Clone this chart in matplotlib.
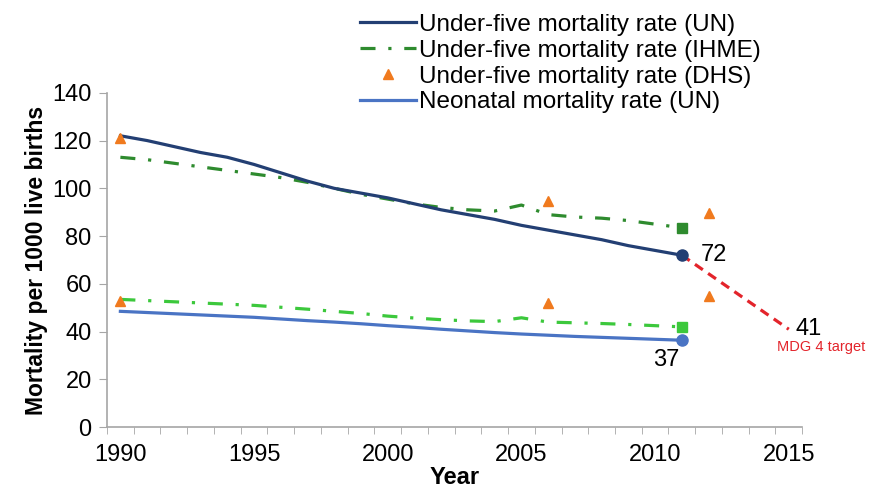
import numpy as np
import matplotlib
matplotlib.use("Agg")
import matplotlib.pyplot as plt
from matplotlib.lines import Line2D

plt.rcParams['font.family'] = ['Liberation Sans', 'DejaVu Sans']

years = np.arange(1990, 2012)

# under-five mortality (UN)
u5_un = [122, 120, 117.5, 115, 113, 110, 106.5, 103, 100, 98, 96,
         93.5, 91, 89, 87, 84.5, 82.5, 80.5, 78.5, 76, 74, 72]
# under-five mortality (IHME)
u5_ihme = [113, 112, 110.5, 109, 107.5, 106, 104.5, 102.5, 100, 97.5, 95.5,
           93.5, 92, 91, 90.5, 93, 89, 88, 87.5, 86.5, 85, 83.5]
# neonatal mortality (UN)
nn_un = [48.5, 48, 47.5, 47, 46.5, 46, 45.3, 44.6, 44, 43.3, 42.5,
         41.8, 41, 40.3, 39.6, 39, 38.5, 38, 37.6, 37.2, 36.8, 36.4]
# neonatal mortality (IHME)
nn_ihme = [53.5, 53, 52.5, 52, 51.5, 51, 50.2, 49.4, 48.5, 47.6, 46.5,
           45.7, 45, 44.5, 44.2, 45.8, 44, 43.7, 43.4, 43, 42.5, 42]

# DHS survey points
dhs_years = [1990, 2006, 2012]
dhs_u5 = [121, 94.5, 89.5]
dhs_nn = [53, 52, 55]

# MDG 4 target
mdg_years = [2011, 2015]
mdg_vals = [72, 41]

navy = '#233F73'
blue = '#4A74C4'
dgreen = '#2E8B2E'
lgreen = '#3CC83C'
orange = '#F07A1E'
red = '#E3242B'
grey = '#A6A6A6'

fig = plt.figure(figsize=(8.7, 4.91), dpi=100)
ax = fig.add_axes([0.123, 0.130, 0.799, 0.681])

dd = (4.7, 4, 1, 4)
ax.plot(mdg_years, mdg_vals, color=red, lw=2.3, dashes=(3, 2), zorder=2)
ax.plot(years, u5_ihme, color=dgreen, lw=2.3, dashes=dd, zorder=3)
ax.plot(years, nn_ihme, color=lgreen, lw=2.3, dashes=dd, zorder=3)
ax.plot(years, u5_un, color=navy, lw=2.3, zorder=4)
ax.plot(years, nn_un, color=blue, lw=2.3, zorder=4)

ax.plot(years[-1], u5_ihme[-1], 's', color=dgreen, ms=7, zorder=5)
ax.plot(years[-1], nn_ihme[-1], 's', color=lgreen, ms=7, zorder=5)
ax.plot(years[-1], u5_un[-1], 'o', color=navy, ms=8, zorder=5)
ax.plot(years[-1], nn_un[-1], 'o', color=blue, ms=8, zorder=5)

ax.plot(dhs_years, dhs_u5, '^', color=orange, ms=7, ls='none', zorder=6)
ax.plot(dhs_years, dhs_nn, '^', color=orange, ms=7, ls='none', zorder=6)

ax.text(2011.7, u5_un[-1], '72', fontsize=17, va='center', ha='left')
ax.text(2010.4, nn_un[-1] - 3.5, '37', fontsize=17, va='top', ha='center')
ax.text(2015.25, mdg_vals[-1], '41', fontsize=17, va='center', ha='left')
ax.text(2016.2, mdg_vals[-1] - 7.5, 'MDG 4 target', fontsize=10.5, color=red,
        va='center', ha='center', clip_on=False)

ax.set_xlim(1989.5, 2015.5)
ax.set_ylim(0, 140)
ax.set_xticks(range(1990, 2016, 5))
ax.set_xticks(np.arange(1989.5, 2016, 1), minor=True)
ax.tick_params(axis='x', which='major', length=0, labelsize=17, pad=12)
ax.tick_params(axis='x', which='minor', length=5, color=grey, direction='out')
ax.set_yticks(range(0, 141, 20))
ax.tick_params(axis='y', length=6, color=grey, labelsize=17, pad=5)

for s in ['top', 'right']:
    ax.spines[s].set_visible(False)
for s in ['left', 'bottom']:
    ax.spines[s].set_color(grey)
    ax.spines[s].set_linewidth(1.2)

ax.set_xlabel('Year', fontsize=17, fontweight='bold', labelpad=0)
ax.set_ylabel('Mortality per 1000 live births', fontsize=16.5, fontweight='bold', labelpad=3)

handles = [
    Line2D([], [], color=navy, lw=2.3),
    Line2D([], [], color=dgreen, lw=2.3, dashes=dd),
    Line2D([], [], color=orange, marker='^', ms=7, ls='none'),
    Line2D([], [], color=blue, lw=2.3),
]
labels = ['Under-five mortality rate (UN)', 'Under-five mortality rate (IHME)',
          'Under-five mortality rate (DHS)', 'Neonatal mortality rate (UN)']
fig.legend(handles, labels, loc='upper left', bbox_to_anchor=(0.414, 0.972),
           frameon=False, fontsize=17.5, handlelength=2.3, handletextpad=0.1,
           labelspacing=0.16, borderaxespad=0, borderpad=0)

fig.savefig('out.png', dpi=100)
